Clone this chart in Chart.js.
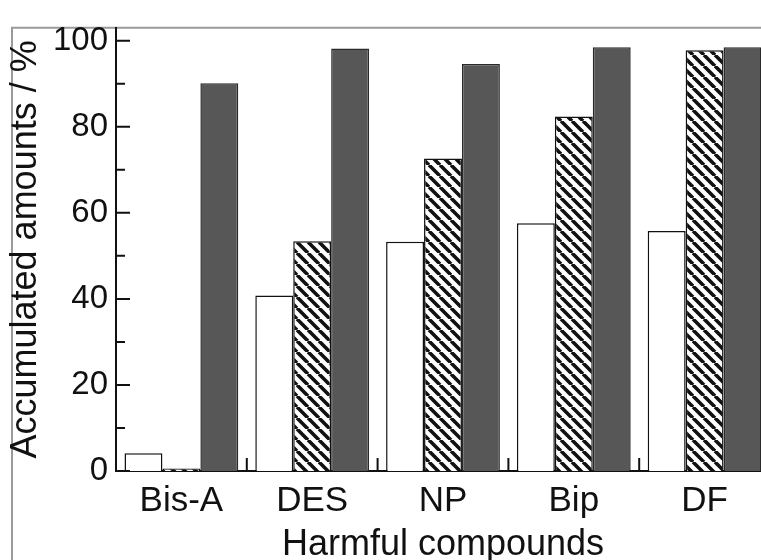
<!DOCTYPE html>
<html>
<head>
<meta charset="utf-8">
<script src="https://cdn.jsdelivr.net/npm/chart.js@4/dist/chart.umd.min.js"></script>
<style>
  html, body { margin: 0; padding: 0; background: #fff; overflow: hidden; }
  #wrap { position: relative; width: 800px; height: 570px; }
</style>
</head>
<body>
<div id="wrap"><canvas id="myChart" width="800" height="570"></canvas></div>
<script>
// data
var categories = ['Bis-A', 'DES', 'NP', 'Bip', 'DF'];
var openValues = [4.1, 40.8, 53.3, 57.6, 55.8];      // white bars
var hatchValues = [0.6, 53.4, 72.6, 82.4, 97.8];     // hatched bars
var darkValues = [90.1, 98.2, 94.6, 98.5, 98.5];     // dark bars
var yTicks = [0, 10, 20, 30, 40, 50, 60, 70, 80, 90, 100];

// hatch fill  \\\
function makeHatch(){
    var s = 11;
    var c = document.createElement('canvas');
    c.width = s; c.height = s;
    var g = c.getContext('2d');
    g.fillStyle = '#fff';
    g.fillRect(0, 0, s, s);
    g.strokeStyle = '#111';
    g.lineWidth = 3.6;
    g.beginPath();
    for (var x0 = -s; x0 <= s; x0 += s) {
        g.moveTo(x0, 0);
        g.lineTo(x0 + s, s);
    }
    g.stroke();
    return g.createPattern(c, 'repeat');
}

// frame + inward ticks
var frameTicks = {
    id: 'frameTicks',
    beforeDraw: function(chart){
        var ctx = chart.ctx, area = chart.chartArea;
        ctx.save();
        ctx.fillStyle = '#fff';
        ctx.fillRect(0, 0, chart.width, chart.height);
        ctx.strokeStyle = '#9a9a9a';
        ctx.lineWidth = 2;
        ctx.beginPath();
        ctx.moveTo(12, chart.height);
        ctx.lineTo(12, area.top);
        ctx.lineTo(chart.width, area.top);
        ctx.stroke();
        ctx.restore();
    },
    afterDraw: function(chart){
        var ctx = chart.ctx, area = chart.chartArea;
        var ys = chart.scales.y, xs = chart.scales.x;
        ctx.save();
        ctx.strokeStyle = '#111';
        ctx.lineWidth = 2;
        ctx.beginPath();
        ys.ticks.forEach(function(t){
            var py = ys.getPixelForValue(t.value);
            var len = t.value % 20 === 0 ? 14 : 9;
            ctx.moveTo(area.left, py);
            ctx.lineTo(area.left + len, py);
        });
        for (var i = 1; i < categories.length; i++) {
            var px = (xs.getPixelForValue(i - 1) + xs.getPixelForValue(i)) / 2;
            ctx.moveTo(px, area.bottom);
            ctx.lineTo(px, area.bottom - 13);
        }
        ctx.stroke();
        ctx.restore();
    }
};

function initChart(){
    var el = document.getElementById('myChart');
    var myChart = new Chart(el, {
        type: 'bar',
        data: {
            labels: categories,
            datasets: [{
                data: openValues,
                backgroundColor: '#fff',
                borderColor: '#111',
                borderWidth: 1.5
            }, {
                data: hatchValues,
                backgroundColor: makeHatch(),
                borderColor: '#111',
                borderWidth: 1.5
            }, {
                data: darkValues,
                backgroundColor: '#575757',
                borderColor: '#2a2a2a',
                borderWidth: 1.5
            }]
        },
        options: {
            responsive: false,
            animation: false,
            categoryPercentage: 0.87,
            barPercentage: 1.0,
            layout: { padding: { top: 14, right: 30, bottom: 3, left: 0 } },
            plugins: {
                legend: { display: false },
                tooltip: { enabled: false }
            },
            scales: {
                x: {
                    grid: { display: false, drawTicks: false },
                    border: { display: true, color: '#111', width: 2 },
                    ticks: {
                        padding: 9,
                        color: '#111',
                        font: { family: 'Liberation Sans', size: 35 }
                    },
                    title: {
                        display: true,
                        text: 'Harmful compounds',
                        color: '#111',
                        padding: { top: 0, bottom: 0 },
                        font: { family: 'Liberation Sans', size: 36 }
                    },
                    afterFit: function(scale){ scale.height = 96; }
                },
                y: {
                    min: 0,
                    max: 103,
                    grid: { display: false, drawTicks: false },
                    border: { display: true, color: '#111', width: 2 },
                    afterBuildTicks: function(scale){
                        scale.ticks = yTicks.map(function(v){ return { value: v }; });
                    },
                    ticks: {
                        padding: 8,
                        color: '#111',
                        font: { family: 'Liberation Sans', size: 33 },
                        callback: function(v){ return v % 20 === 0 ? v : ''; }
                    },
                    title: {
                        display: true,
                        text: 'Accumulated amounts / %',
                        color: '#111',
                        padding: { top: 4, bottom: 0 },
                        font: { family: 'Liberation Sans', size: 36 }
                    },
                    afterFit: function(scale){ scale.width = 116; }
                }
            }
        },
        plugins: [frameTicks]
    });
};

initChart();
</script>
</body>
</html>
